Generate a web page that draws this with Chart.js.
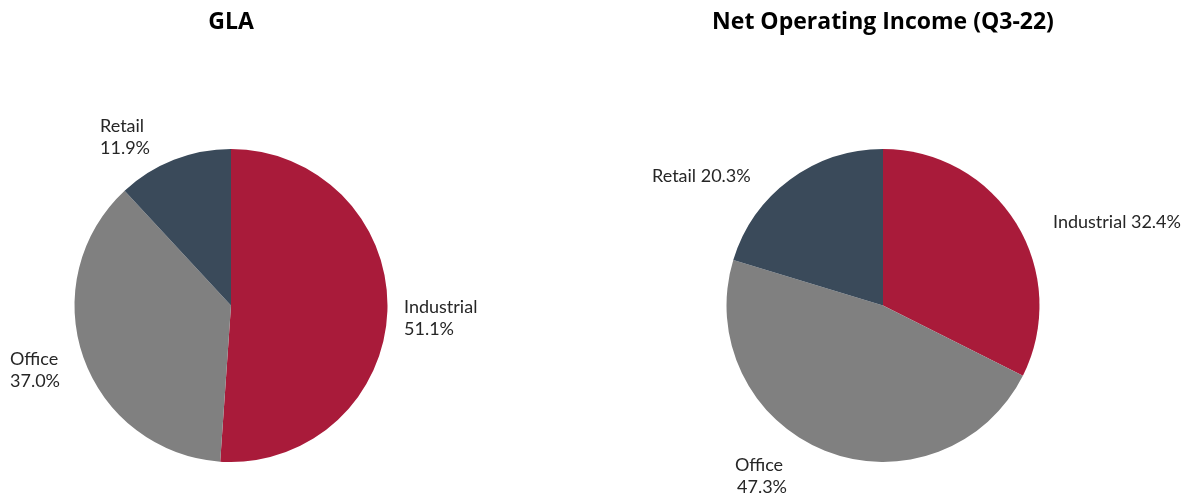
<!DOCTYPE html>
<html>
<head>
<meta charset="utf-8">
<script src="https://cdn.jsdelivr.net/npm/chart.js@4"></script>
<style>
  html, body { margin: 0; padding: 0; background: #fff; }
  body { width: 1192px; height: 496px; position: relative; overflow: hidden; }
  .box { position: absolute; top: 0; width: 596px; height: 496px; }
</style>
</head>
<body>
<div class="box" style="left:0px"><canvas id="c1"></canvas></div>
<div class="box" style="left:596px"><canvas id="c2"></canvas></div>
<script>
// Data
const categories = ['Industrial', 'Office', 'Retail'];
const glaValues = [51.1, 37.0, 11.9];
const noiValues = [32.4, 47.3, 20.3];
const colors = ['#A91B3A', '#808080', '#3A4A5A'];
const titles = ['GLA', 'Net Operating Income (Q3-22)'];

// Label layout (offsets from pie centre, in px), not data
const glaLabelLayout = [
  { dx: 173, dy: 2, align: 'left', split: true },
  { dx: -221, dy: 54, align: 'left', split: true },
  { dx: -131, dy: -179, align: 'left', split: true }
];
const noiLabelLayout = [
  { dx: 170, dy: -83, align: 'left', split: false },
  { dx: -124, dy: 160, align: 'center', split: true },
  { dx: -231, dy: -129, align: 'left', split: false }
];

const LABEL_FONT = "Lato, 'Noto Sans', sans-serif";
const TITLE_FONT = "'Open Sans', Lato, sans-serif";

const labelPlugin = {
  id: 'sliceLabels',
  afterDatasetsDraw(chart, args, opts) {
    const ctx = chart.ctx;
    const meta = chart.getDatasetMeta(0);
    const data = chart.data.datasets[0].data;
    const labels = chart.data.labels;
    ctx.save();
    // title centred over the pie
    const cx = meta.data[0].x;
    ctx.fillStyle = '#000';
    ctx.font = 'bold 23px ' + TITLE_FONT;
    ctx.textAlign = 'center';
    ctx.textBaseline = 'middle';
    ctx.fillText(opts.title, cx, 22);
    // slice labels
    ctx.fillStyle = '#262626';
    ctx.font = '18px ' + LABEL_FONT;
    meta.data.forEach((arc, i) => {
      const L = opts.layout[i];
      const x = arc.x + L.dx, y = arc.y + L.dy;
      ctx.textAlign = L.align;
      const pct = data[i].toFixed(1) + '%';
      if (L.split) {
        ctx.fillText(labels[i], x, y);
        ctx.fillText(pct, x + (L.align === 'center' ? 3 : 0), y + 22);
      } else {
        ctx.fillText(labels[i] + ' ' + pct, x, y);
      }
    });
    ctx.restore();
  }
};

function makePie(id, values, title, layout, padL, padR) {
  return new Chart(document.getElementById(id), {
    type: 'pie',
    data: {
      labels: categories,
      datasets: [{ data: values, backgroundColor: colors, borderWidth: 0 }]
    },
    options: {
      responsive: true,
      maintainAspectRatio: false,
      animation: false,
      layout: { padding: { top: 149, bottom: 34, left: padL, right: padR } },
      plugins: {
        legend: { display: false },
        tooltip: { enabled: false },
        title: { display: false },
        sliceLabels: { layout: layout, title: title }
      }
    },
    plugins: [labelPlugin]
  });
}

makePie('c1', glaValues, titles[0], glaLabelLayout, 0, 134);
makePie('c2', noiValues, titles[1], noiLabelLayout, 130, 152);
</script>
</body>
</html>
